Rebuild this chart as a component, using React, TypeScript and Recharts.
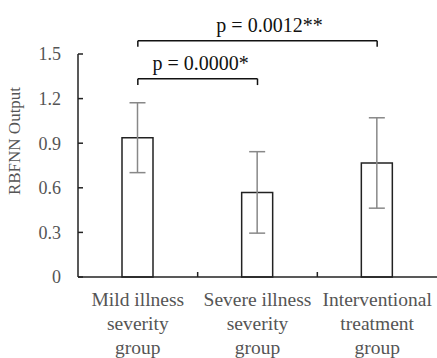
import { BarChart, Bar, XAxis, YAxis, ErrorBar, ReferenceLine } from 'recharts';

const categories = ['Mild', 'Severe', 'Interventional'];
const categoryLines = [
  ['Mild illness', 'severity', 'group'],
  ['Severe illness', 'severity', 'group'],
  ['Interventional', 'treatment', 'group'],
];
const means = [0.937, 0.569, 0.767];
const errors = [0.235, 0.274, 0.304];
const yTicks = [0, 0.3, 0.6, 0.9, 1.2, 1.5];

// significance brackets: from/to category index, label, bracket level and drop in y units
const brackets = [
  { from: 0, to: 2, text: 'p = 0.0012**', level: 1.589, drop: 0.04, shift: 12 },
  { from: 0, to: 1, text: 'p = 0.0000*', level: 1.334, drop: 0.043, shift: 3 },
];

const data = categories.map((name, i) => ({ name, value: means[i], err: errors[i] }));

const FONT = 'Liberation Serif, DejaVu Serif, serif';
const AXIS = '#222';

// category label plus the small upward tick at the right edge of each band
function CategoryTick({ x, y, payload, index, visibleTicksCount }: any) {
  const lines = categoryLines[payload.index] || [];
  const half = payload.offset || 0;
  const last = index === visibleTicksCount - 1;
  return (
    <g>
      {!last && half > 0 && (
        <line x1={x + half} x2={x + half} y1={y} y2={y - 5} stroke={AXIS} strokeWidth={1.5} />
      )}
      <text x={x} y={y} textAnchor="middle" fill="#555" fontSize={19.5} style={{ fontFamily: FONT }}>
        {lines.map((l, i) => (
          <tspan key={i} x={x} dy={i === 0 ? 29 : 24}>{l}</tspan>
        ))}
      </text>
    </g>
  );
}

// value label plus an inward tick
function ValueTick({ x, y, payload }: any) {
  const v = payload.value as number;
  return (
    <g>
      <line x1={x} x2={x + 5} y1={y} y2={y} stroke={AXIS} strokeWidth={1.5} />
      <text x={x - 17} y={y} dy="0.355em" textAnchor="end" fill="#555" fontSize={18} style={{ fontFamily: FONT }}>
        {v === 0 ? '0' : v.toFixed(1)}
      </text>
    </g>
  );
}

function BracketLabel({ viewBox, text, shift }: any) {
  if (!viewBox) return null;
  const cx = viewBox.x + viewBox.width / 2 + shift;
  return (
    <text x={cx} y={viewBox.y - 9} textAnchor="middle" fill="#111" fontSize={20} style={{ fontFamily: FONT }}>
      {text}
    </text>
  );
}

function YLabel() {
  return (
    <text x={20} y={141} transform="rotate(-90 20 141)" textAnchor="middle" fill="#555" fontSize={17} style={{ fontFamily: FONT }}>
      RBFNN Output
    </text>
  );
}

export default function App() {
  return (
    <div style={{ position: 'absolute', left: 0, top: 0, background: '#fff' }}>
      <BarChart width={437} height={358} data={data} margin={{ top: 54, right: 0, left: 0, bottom: 0 }}>
        <XAxis
          dataKey="name"
          height={81}
          tickLine={false}
          tickSize={0}
          tickMargin={0}
          axisLine={{ stroke: AXIS, strokeWidth: 1.5 }}
          tick={<CategoryTick />}
          interval={0}
        />
        <YAxis
          width={78}
          domain={[0, 1.5]}
          ticks={yTicks}
          tickLine={false}
          tickSize={0}
          tickMargin={0}
          axisLine={{ stroke: AXIS, strokeWidth: 1.5 }}
          tick={<ValueTick />}
          label={<YLabel />}
        />
        <Bar dataKey="value" fill="#fff" stroke={AXIS} strokeWidth={1.5} barSize={31} isAnimationActive={false}>
          <ErrorBar dataKey="err" width={8} stroke="#888" strokeWidth={1.5} isAnimationActive={false} />
        </Bar>
        {brackets.map((b, i) => (
          <ReferenceLine
            key={'h' + i}
            ifOverflow="visible"
            stroke="#111"
            strokeWidth={1.5}
            segment={[
              { x: categories[b.from], y: b.level },
              { x: categories[b.to], y: b.level },
            ]}
            label={<BracketLabel text={b.text} shift={b.shift} />}
          />
        ))}
        {brackets.flatMap((b, i) =>
          [b.from, b.to].map((c) => (
            <ReferenceLine
              key={'v' + i + '-' + c}
              ifOverflow="visible"
              stroke="#111"
              strokeWidth={1.5}
              segment={[
                { x: categories[c], y: b.level },
                { x: categories[c], y: b.level - b.drop },
              ]}
            />
          ))
        )}
      </BarChart>
    </div>
  );
}
